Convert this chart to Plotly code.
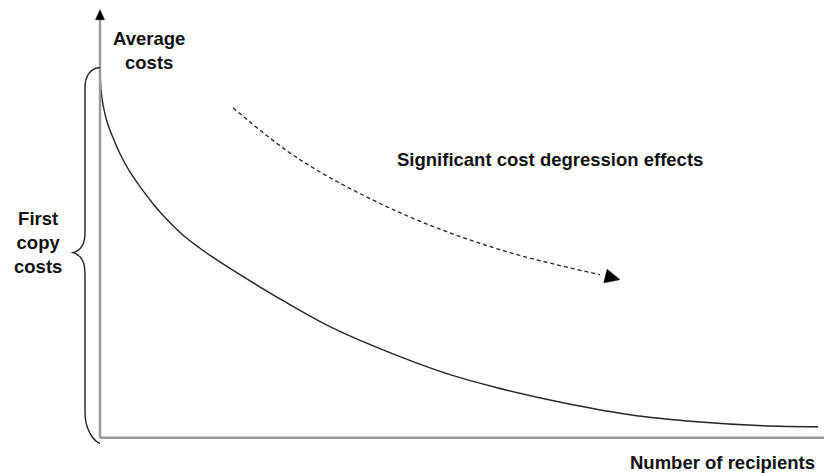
import math
import plotly.graph_objects as go

# Average cost curve (number of recipients vs. average costs, arbitrary units)
recipients = [0, 1, 3, 7, 13, 20, 28, 40, 53, 62, 82, 100, 112, 140, 183, 233, 300, 350, 397, 463, 530, 597, 663, 718]
avg_costs = [370, 348, 333, 316, 300, 284, 269, 251, 234, 223.5, 203.5, 189.5, 181, 163, 137, 109.5, 81, 63, 50, 35, 23, 16, 12, 11]

# Dashed "degression" arrow path
trend_x = [133, 200, 300, 400, 500, 520]
trend_y = [330, 278, 225, 188, 163, 158]

# Axis extents
x_axis_end = 724
y_axis_end = 428

FONT = "Liberation Sans, Arial, sans-serif"
AXIS_COLOR = "#9a9a9a"
INK = "#111111"

fig = go.Figure()

# Cost curve
fig.add_trace(go.Scatter(
    x=recipients, y=avg_costs, mode="lines",
    line=dict(color="#262626", width=1.4, shape="spline", smoothing=1.0),
    hoverinfo="skip", showlegend=False))

# Dashed trend line (stop before arrow tip)
fig.add_trace(go.Scatter(
    x=trend_x[:-1], y=trend_y[:-1], mode="lines",
    line=dict(color="#222222", width=1.3, dash="4px,3px", shape="spline"),
    hoverinfo="skip", showlegend=False))

shapes = []
# Axes
shapes.append(dict(type="line", xref="x", yref="y", x0=0, y0=0, x1=x_axis_end, y1=0,
                   line=dict(color=AXIS_COLOR, width=2.5)))
shapes.append(dict(type="line", xref="x", yref="y", x0=0, y0=0, x1=0, y1=y_axis_end - 8,
                   line=dict(color=AXIS_COLOR, width=2.5)))
# Y-axis arrowhead
shapes.append(dict(type="path", xref="x", yref="y",
                   path=f"M -4.5,{y_axis_end-10} L 0,{y_axis_end} L 4.5,{y_axis_end-10} Z",
                   fillcolor="black", line=dict(color="black", width=0.5)))

# Trend arrowhead computed from last segment direction
tx, ty = trend_x[-1], trend_y[-1]
px, py = trend_x[-2], trend_y[-2]
dx, dy = tx - px, ty - py
L = math.hypot(dx, dy)
ux, uy = dx / L, dy / L
head_len, half_w = 15, 7
bx, by = tx - head_len * ux, ty - head_len * uy
nx, ny = -uy, ux
shapes.append(dict(type="path", xref="x", yref="y",
                   path=(f"M {tx},{ty} L {bx + half_w*nx},{by + half_w*ny} "
                         f"L {bx - half_w*nx},{by - half_w*ny} Z"),
                   fillcolor="black", line=dict(color="black", width=0.5)))

# Curly brace for first copy costs
top = avg_costs[0]
mid = 185
shapes.append(dict(type="path", xref="x", yref="y",
                   path=(f"M 0,{top} C -9,{top} -15,{top-8} -15,{top-20} "
                         f"L -15,{mid+20} C -15,{mid+8} -20,{mid+2} -27,{mid} "
                         f"C -20,{mid-2} -15,{mid-8} -15,{mid-20} "
                         f"L -15,25 C -15,10 -8,-2 0,-6"),
                   line=dict(color="#222222", width=1.4)))

annotations = [
    dict(x=49, y=387, text="<b>Average<br>costs</b>", showarrow=False,
         xanchor="center", yanchor="middle"),
    dict(x=-62, y=195, text="<b>First<br>copy<br>costs</b>", showarrow=False,
         xanchor="center", yanchor="middle"),
    dict(x=295, y=278, text="<b>Significant cost degression effects</b>", showarrow=False,
         xanchor="left", yanchor="middle"),
    dict(x=717, y=-25, text="<b>Number of recipients</b>", showarrow=False,
         xanchor="right", yanchor="middle"),
]
for a in annotations:
    a.update(xref="x", yref="y", font=dict(family=FONT, size=18.5, color=INK))

fig.update_layout(
    width=824, height=474, autosize=False,
    margin=dict(l=0, r=0, t=0, b=0, pad=0),
    paper_bgcolor="white", plot_bgcolor="white",
    xaxis=dict(range=[-100, 724], visible=False, fixedrange=True),
    yaxis=dict(range=[-36.3, 437.7], visible=False, fixedrange=True),
    shapes=shapes, annotations=annotations, showlegend=False,
)

fig.write_html(
    "out.html",
    config={"displayModeBar": False},
    post_script="document.body.style.margin='0';document.body.style.overflow='hidden';",
)
